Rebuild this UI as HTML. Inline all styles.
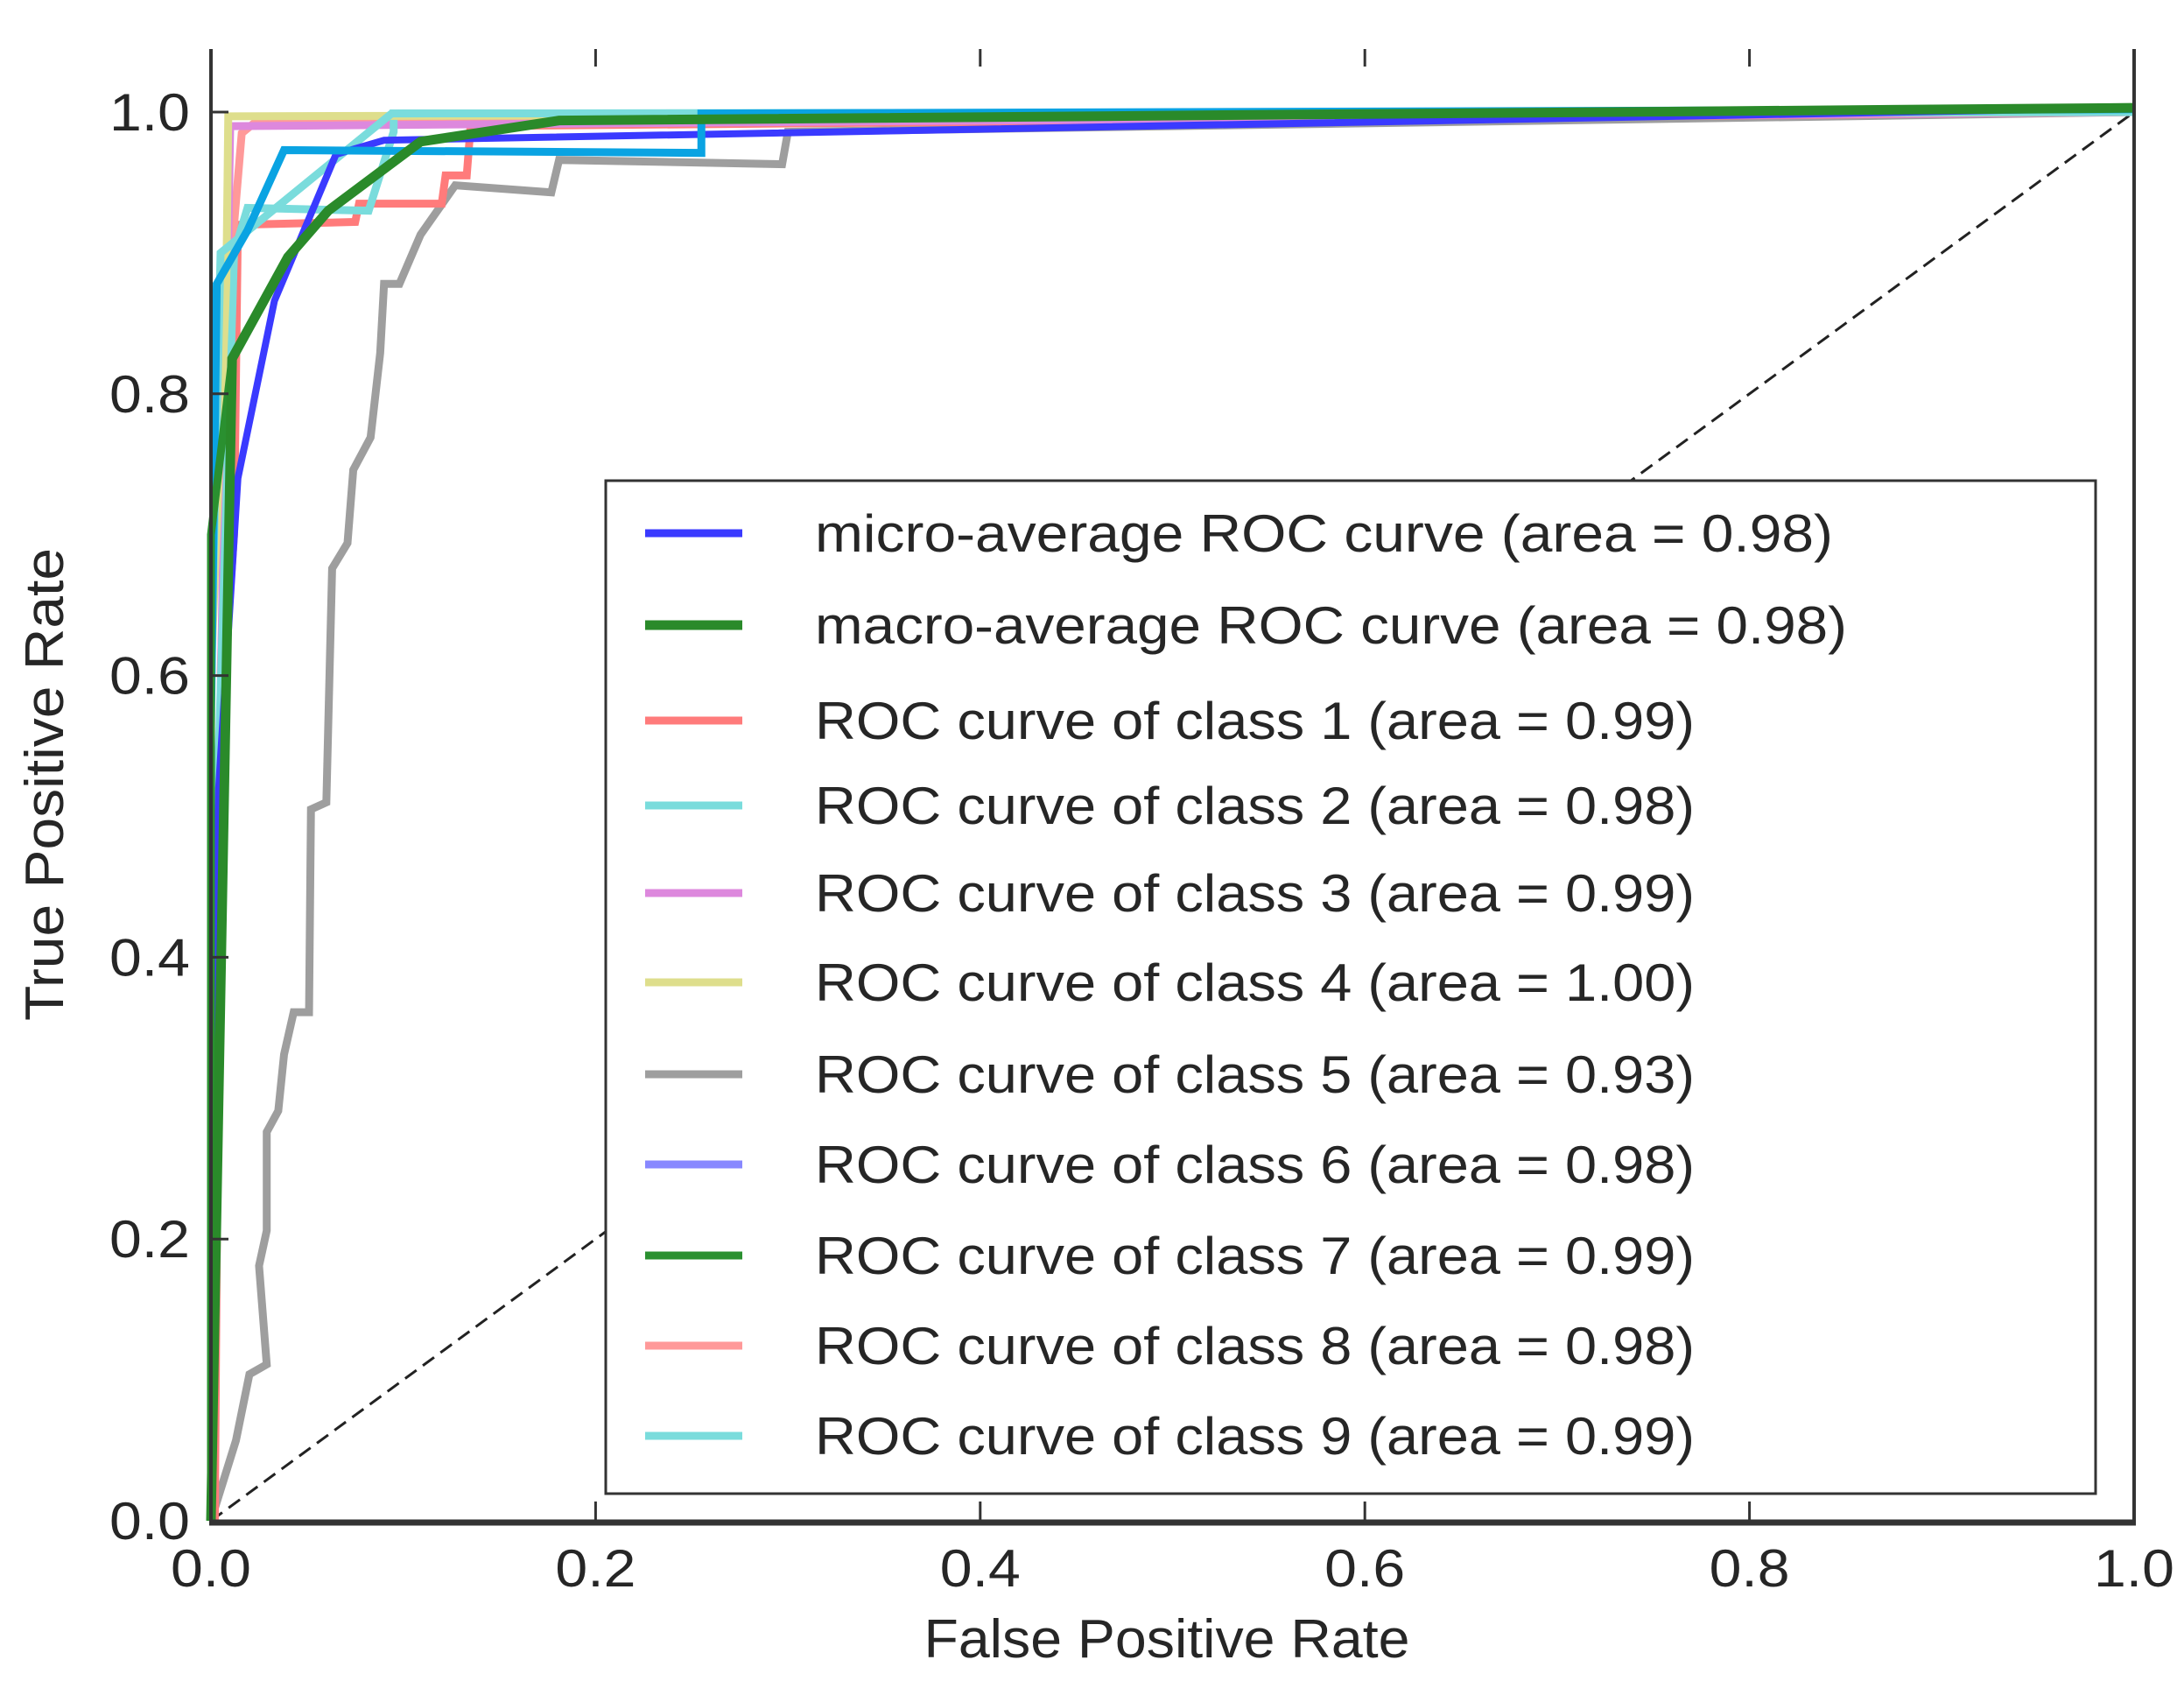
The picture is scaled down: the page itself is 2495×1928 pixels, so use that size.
<!DOCTYPE html>
<html><head><meta charset="utf-8"><style>
html,body{margin:0;padding:0;background:#fff;}
svg{display:block;}
text{font-family:"Liberation Sans",sans-serif;fill:#262626;}
</style></head><body>
<svg id="chart" width="2495" height="1928" viewBox="0 0 2495 1928" xmlns="http://www.w3.org/2000/svg">
<g id="curves"></g>
<g id="axes"></g>
<g id="legend"></g>
</svg>
<script>
const xTicks = [0, 0.2, 0.4, 0.6, 0.8, 1.0];
const yTicks = [0, 0.2, 0.4, 0.6, 0.8, 1.0];
const xTickLabels = ["0.0","0.2","0.4","0.6","0.8","1.0"];
const yTickLabels = ["0.0","0.2","0.4","0.6","0.8","1.0"];
const seriesNames = ["micro-average ROC curve (area = 0.98)","macro-average ROC curve (area = 0.98)","ROC curve of class 1 (area = 0.99)","ROC curve of class 2 (area = 0.98)","ROC curve of class 3 (area = 0.99)","ROC curve of class 4 (area = 1.00)","ROC curve of class 5 (area = 0.93)","ROC curve of class 6 (area = 0.98)","ROC curve of class 7 (area = 0.99)","ROC curve of class 8 (area = 0.98)","ROC curve of class 9 (area = 0.99)"];
const microFpr = [0,0.004,0.014,0.033,0.065,0.09,1];
const microTpr = [0,0.52,0.74,0.866,0.97,0.98,1.003];
const macroFpr = [0,0.011,0.040,0.061,0.109,0.181,1];
const macroTpr = [0,0.825,0.897,0.930,0.979,0.994,1.003];
const class1Fpr = [0.002,0.005,0.012,0.014,0.075,0.077,0.12,0.122,0.133,0.135,1];
const class1Tpr = [0,0.56,0.7,0.92,0.922,0.935,0.935,0.955,0.955,0.99,1.0];
const class2Fpr = [0.003,0.012,0.019,0.082,0.095,0.095,1];
const class2Tpr = [0.5,0.9,0.932,0.93,0.986,0.999,1.0];
const class3Fpr = [0,0.004,0.01,1];
const class3Tpr = [0,0.5,0.99,1.0];
const class4Fpr = [0,0.008,0.009,1];
const class4Tpr = [0.6,0.88,0.997,1.0];
const class5Fpr = [0,0.013,0.020,0.029,0.025,0.029,0.029,0.035,0.038,0.043,0.051,0.052,0.060,0.063,0.071,0.074,0.083,0.088,0.090,0.098,0.109,0.127,0.177,0.181,0.297,0.300,1];
const class5Tpr = [0,0.057,0.104,0.111,0.181,0.206,0.276,0.291,0.331,0.361,0.361,0.505,0.510,0.676,0.694,0.746,0.769,0.829,0.878,0.878,0.913,0.948,0.943,0.966,0.963,0.986,1.0];
const class6Fpr = [0,0.003,0.019,0.038,0.255,0.255,1];
const class6Tpr = [0.564,0.878,0.916,0.973,0.971,0.999,1.002];
const class7Fpr = [0,0,0.011,0.040,0.061,0.109,0.181,1];
const class7Tpr = [0,0.7,0.825,0.897,0.930,0.979,0.994,1.003];
const class8Fpr = [0.005,0.012,0.016,0.025,1];
const class8Tpr = [0.6,0.92,0.985,0.995,1.0];
const class9Fpr = [0,0.005,0.094,1];
const class9Tpr = [0.6,0.9,0.999,1.0];

const NS="http://www.w3.org/2000/svg";
const X0=241, X1=2438, Y0=1737, Y1=128, YTOP=56;
function sx(v){return X0+(X1-X0)*v;}
function sy(v){return Y0-(Y0-Y1)*v;}
function mk(tag,attrs,parent){const e=document.createElementNS(NS,tag);for(const k in attrs)e.setAttribute(k,attrs[k]);parent.appendChild(e);return e;}
const curves=document.getElementById('curves');
const axes=document.getElementById('axes');
const legend=document.getElementById('legend');

const diag=mk('line',{x1:sx(0),y1:sy(0),x2:sx(1),y2:sy(1),stroke:'#222','stroke-width':3,'stroke-dasharray':'16,9'},curves);



const drawOrder=[
 ['class-5-curve',class5Fpr,class5Tpr,'#9e9e9e',9],
 ['class-1-curve',class1Fpr,class1Tpr,'#ff7b7b',9],
 ['class-8-curve',class8Fpr,class8Tpr,'#ff9999',9],
 ['class-3-curve',class3Fpr,class3Tpr,'#dd88dd',9],
 ['class-2-curve',class2Fpr,class2Tpr,'#7adcdc',9],
 ['class-4-curve',class4Fpr,class4Tpr,'#dede8c',9],
 ['class-9-curve',class9Fpr,class9Tpr,'#7adcdc',9],
 ['micro-average-curve',microFpr,microTpr,'#3a3aff',8],
 ['class-6-curve',class6Fpr,class6Tpr,'#0aa3e2',9],
 ['class-7-curve',class7Fpr,class7Tpr,'#2a9030',9],
 ['macro-average-curve',macroFpr,macroTpr,'#2a8a2a',11]
];
drawOrder.forEach(function(s){
  const pts=s[1].map(function(v,i){return sx(v)+','+sy(s[2][i]);}).join(' ');
  const p=mk('polyline',{points:pts,fill:'none',stroke:s[3],'stroke-width':s[4],'stroke-linejoin':'miter'},curves);
  
  
});

let e=mk('line',{x1:X0,y1:YTOP,x2:X0,y2:Y0+4,stroke:'#333','stroke-width':4},axes);


e=mk('line',{x1:X1,y1:YTOP,x2:X1,y2:Y0+4,stroke:'#333','stroke-width':4},axes);


e=mk('line',{x1:X0-2,y1:Y0+2,x2:X1+2,y2:Y0+2,stroke:'#333','stroke-width':7},axes);



xTicks.forEach(function(v,i){
  let t=mk('line',{x1:sx(v),y1:Y0,x2:sx(v),y2:Y0-22,stroke:'#333','stroke-width':3},axes);
  
  
  t=mk('line',{x1:sx(v),y1:YTOP,x2:sx(v),y2:YTOP+20,stroke:'#333','stroke-width':3},axes);
  
  
  const lb=mk('text',{x:sx(v),y:1812,'font-size':60,'text-anchor':'middle',textLength:92,lengthAdjust:'spacingAndGlyphs'},axes);
  lb.textContent=xTickLabels[i];
  
  
});
yTicks.forEach(function(v,i){
  let t=mk('line',{x1:X0,y1:sy(v),x2:X0+20,y2:sy(v),stroke:'#333','stroke-width':3},axes);
  
  
  const lb=mk('text',{x:217,y:sy(v)+21,'font-size':60,'text-anchor':'end',textLength:92,lengthAdjust:'spacingAndGlyphs'},axes);
  lb.textContent=yTickLabels[i];
  
  
});
let xl=mk('text',{x:1333,y:1893,'font-size':62,'text-anchor':'middle',textLength:555,lengthAdjust:'spacingAndGlyphs'},axes);
xl.textContent='False Positive Rate';


let yl=mk('text',{x:0,y:0,'font-size':62,'text-anchor':'middle',textLength:540,lengthAdjust:'spacingAndGlyphs',transform:'translate(72,896) rotate(-90)'},axes);
yl.textContent='True Positive Rate';



let box=mk('rect',{x:692,y:549,width:1702,height:1157,fill:'#fff',stroke:'#333','stroke-width':3},legend);


const legColors=['#3a3aff','#2a8a2a','#ff7b7b','#7adcdc','#dd88dd','#dede8c','#9e9e9e','#8888ff','#2a9030','#ff9999','#7adcdc'];
const legRowY=[609,714,823,920,1020,1122,1227,1330,1434,1537,1640];
const legTextW=[1163,1179,1005,1005,1005,1005,1005,1005,1005,1005,1005];
seriesNames.forEach(function(n,i){
  const g=mk('g',{},legend);
  
  
  const ln=mk('line',{x1:737,y1:legRowY[i],x2:848,y2:legRowY[i],stroke:legColors[i],'stroke-width':i==1?11:9},g);
  
  
  const tx=mk('text',{x:931,y:legRowY[i]+21,'font-size':60,textLength:legTextW[i],lengthAdjust:'spacingAndGlyphs'},g);
  tx.textContent=n;
  
  
});
</script>
</body></html>
